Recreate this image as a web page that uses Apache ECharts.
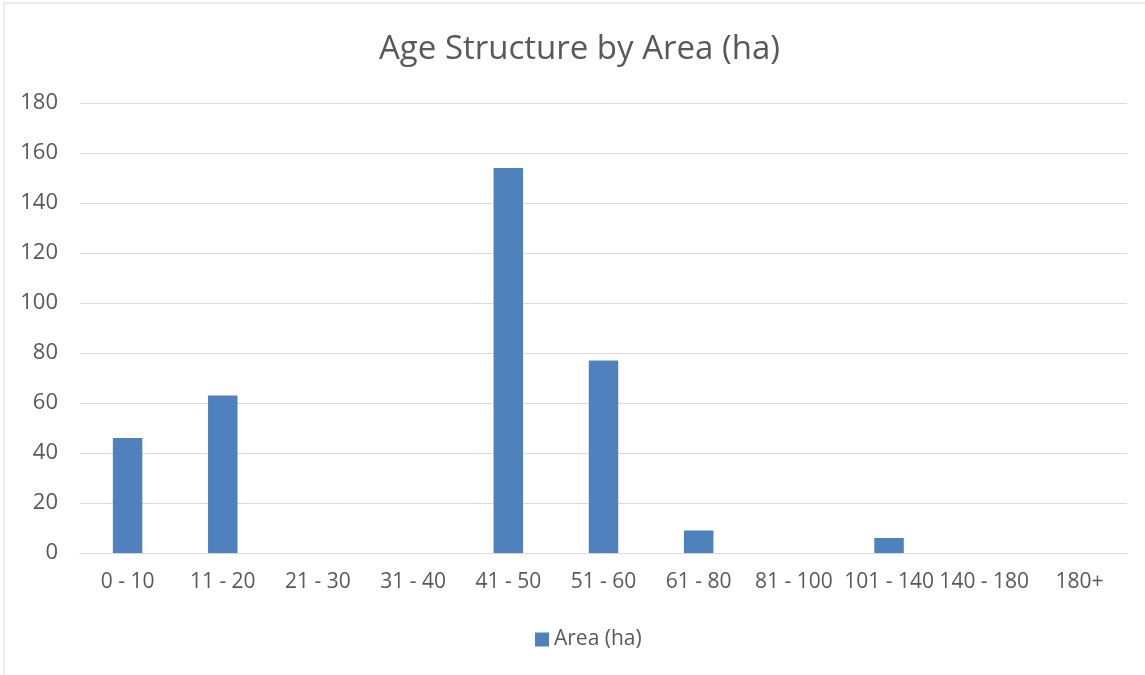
<!DOCTYPE html>
<html>
<head>
<meta charset="utf-8">
<script src="https://cdn.jsdelivr.net/npm/echarts@6/dist/echarts.min.js"></script>
<style>
    html, body {margin: 0; padding: 0; background: #fff;}
    #chart {width: 1145px; height: 675px;}
</style>
</head>
<body>
<div id="chart"></div>
<script>
const categories = ['0 - 10', '11 - 20', '21 - 30', '31 - 40', '41 - 50', '51 - 60', '61 - 80', '81 - 100', '101 - 140', '140 - 180', '180+'];
const areaValues = [46, 63, 0, 0, 154, 77, 9, 0, 6, 0, 0];
const yTicks = {min: 0, max: 180, interval: 20};

const chart = echarts.init(document.getElementById('chart'));
const textColor = '#595959';
const font = "'Open Sans', 'Liberation Sans', sans-serif";

chart.setOption({
    animation: false,
    graphic: [{
        type: 'rect', shape: {x: 4, y: 3, width: 1150, height: 680},
        style: {fill: 'none', stroke: '#d9d9d9', lineWidth: 1}
    }],
    title: {
        text: 'Age Structure by Area (ha)', left: 374, top: 28,
        textStyle: {color: textColor, fontFamily: font, fontWeight: 'normal', fontSize: 33}
    },
    legend: {
        bottom: 20, left: 530, itemWidth: 14, itemHeight: 14, itemGap: 6,
        icon: 'rect',
        textStyle: {color: textColor, fontFamily: font, fontSize: 21}
    },
    grid: {left: 80, right: 18, top: 103, bottom: 122, containLabel: false},
    xAxis: {
        type: 'category', data: categories,
        axisLine: {lineStyle: {color: '#d9d9d9', width: 1}},
        axisTick: {show: false},
        axisLabel: {color: textColor, fontFamily: font, fontSize: 21, margin: 19, interval: 0}
    },
    yAxis: {
        type: 'value', min: yTicks.min, max: yTicks.max, interval: yTicks.interval,
        axisLine: {show: false}, axisTick: {show: false},
        splitLine: {lineStyle: {color: '#d9d9d9', width: 1}},
        axisLabel: {color: textColor, fontFamily: font, fontSize: 22, margin: 22}
    },
    series: [{
        name: 'Area (ha)', type: 'bar', data: areaValues,
        barWidth: '31%',
        itemStyle: {color: '#4f81bd'}
    }]
});
</script>
</body>
</html>
